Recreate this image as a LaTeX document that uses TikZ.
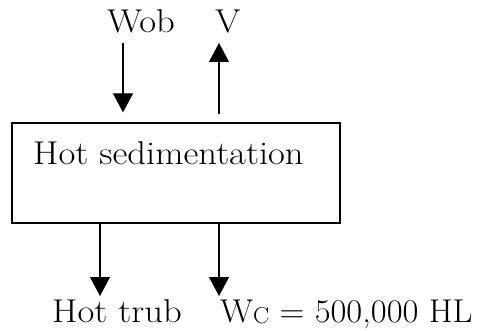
\documentclass[tikz,border=0pt]{standalone}
\usepackage{graphicx}
\usetikzlibrary{arrows.meta}
% text is set a little wider than Latin Modern's display cut
\newcommand{\widetxt}[2][1.11]{\scalebox{#1}[1]{#2}}
\tikzset{
  flow/.style={line width=1.2pt, -{Triangle[length=19pt,width=20pt]}},
  lbl/.style={inner sep=0pt, anchor=base west, font=\fontsize{33}{40}\selectfont},
  unitbox/.style={draw, line width=1.3pt, inner sep=0pt}
}
\begin{document}
\begin{tikzpicture}[x=1pt,y=-1pt]
  \useasboundingbox (0,0) rectangle (479,331);
  % process box
  \node (box) [unitbox, minimum width=328pt, minimum height=100pt] at (176,173) {};
  \node (boxlabel) [lbl] at (33,165) {\widetxt{Hot sedimentation}};
  % stream labels
  \node (wob) [lbl] at (107,33) {\widetxt{Wob}};
  \node (vap) [lbl] at (215,33) {\widetxt{V}};
  \node (trub) [lbl] at (52,322) {\widetxt{Hot trub}};
  \node (wc) [lbl] at (220,322) {\widetxt[1.045]{W\raisebox{-1pt}{\fontsize{23}{28}\selectfont C} = 500,000 HL}};
  % stream ends
  \coordinate (wobin) at (123,43);
  \coordinate (vout) at (219,43);
  \coordinate (trubout) at (100,296);
  \coordinate (wcout) at (219,296);
  % connectors
  \draw[flow, shorten >=10pt] (wobin) -- (wobin |- box.north);
  \draw[flow, shorten <=8pt] (vout |- box.north) -- (vout);
  \draw[flow] (trubout |- box.south) -- (trubout);
  \draw[flow] (wcout |- box.south) -- (wcout);
\end{tikzpicture}
\end{document}
